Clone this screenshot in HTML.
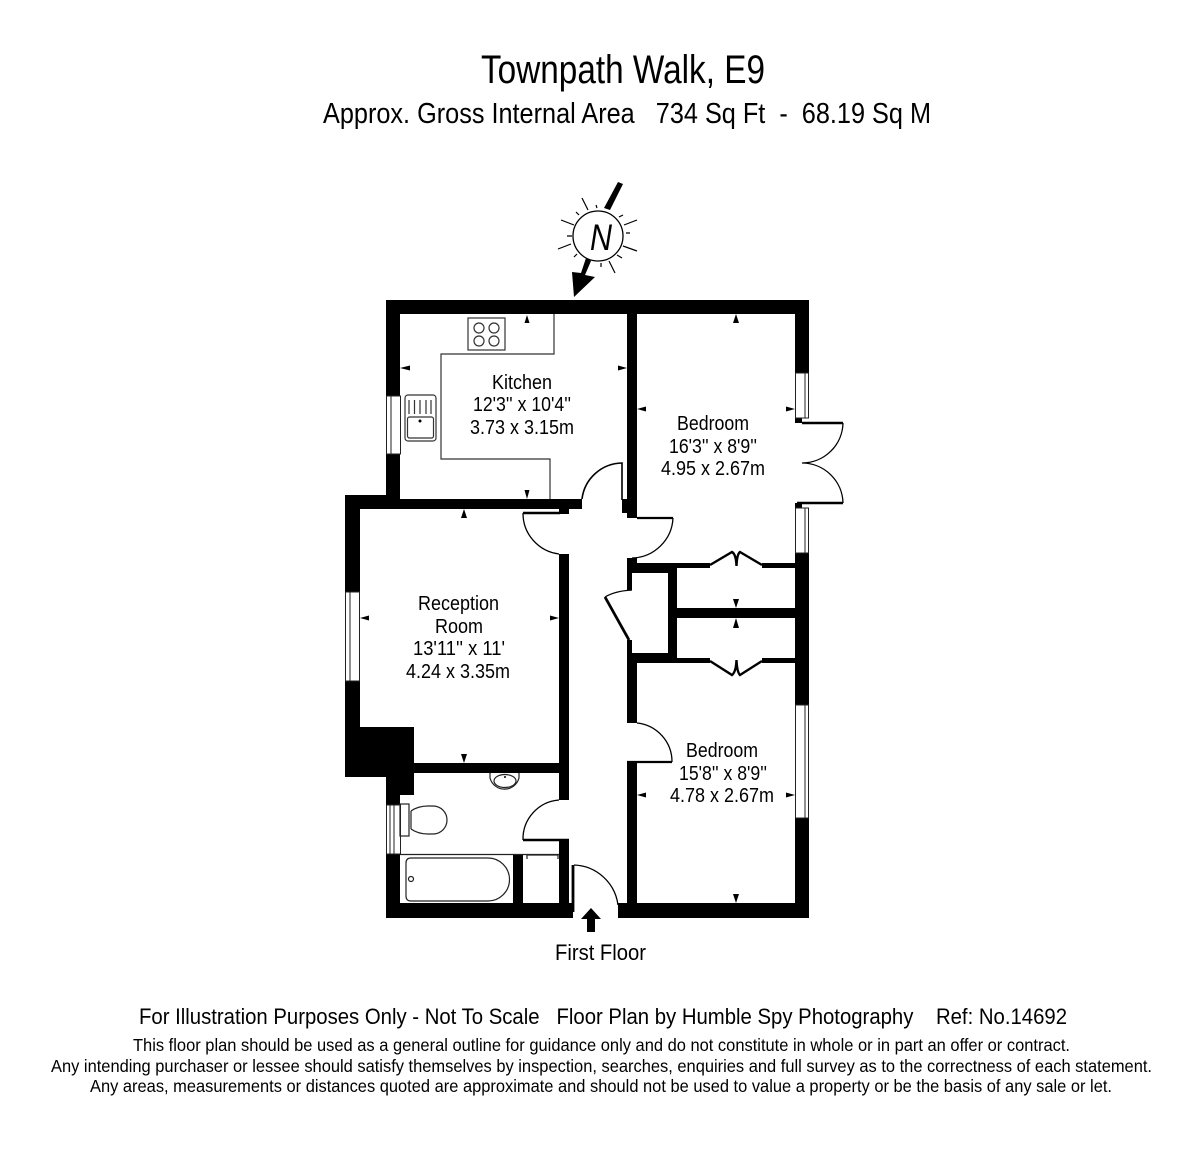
<!DOCTYPE html>
<html><head><meta charset="utf-8"><style>
html,body{margin:0;padding:0;background:#fff}
svg{display:block;filter:blur(0.35px)}
text{font-family:"Liberation Sans",sans-serif;fill:#000}
</style></head><body>
<svg width="1200" height="1160" viewBox="0 0 1200 1160" xmlns="http://www.w3.org/2000/svg">
<rect width="1200" height="1160" fill="#fff"/>
<!-- titles -->
<text x="481" y="83" font-size="40" textLength="284" lengthAdjust="spacingAndGlyphs">Townpath Walk, E9</text>
<text x="323" y="123" font-size="29" textLength="608" lengthAdjust="spacingAndGlyphs" xml:space="preserve">Approx. Gross Internal Area   734 Sq Ft  -  68.19 Sq M</text>
<!-- compass -->
<g stroke="#000" fill="none">
<circle cx="598" cy="236" r="25" stroke-width="1.3"/>
<g stroke-width="1.2">
<path d="M582 198L588 210M561 220L574 225M558 249L571 244M623 246L637 251M624 225L637 220M609 261L615 273"/>
<path d="M576 212L579 215M596 205L597 208M619 217L623 215M626 233L630 233M567 236L572 236M574 257L577 254M601 263L601 267M617 255L622 258"/>
</g>
</g>
<path d="M618 182L623 184L610 210L604 208Z"/>
<path d="M586 258L591 261L585 275L595 277L574 297L572 272L581 273Z"/>
<text x="590" y="250" font-size="37" font-style="italic" textLength="22" lengthAdjust="spacingAndGlyphs">N</text>
<!-- walls -->
<g fill="#000">
<rect x="386" y="300" width="423" height="14"/>
<rect x="386" y="300" width="14" height="200"/>
<rect x="795" y="300" width="14" height="73"/>
<rect x="627" y="314" width="10" height="204"/>
<rect x="622" y="499" width="6" height="14"/>
<rect x="345" y="495" width="55" height="14"/>
<rect x="345" y="499" width="237" height="10"/>
<rect x="559" y="505" width="10" height="9"/>
<rect x="345" y="495" width="15" height="282"/>
<rect x="345" y="727" width="69" height="50"/>
<rect x="386" y="777" width="28" height="18"/>
<rect x="386" y="795" width="14" height="10"/>
<rect x="386" y="854" width="14" height="64"/>
<rect x="386" y="903" width="187" height="15"/>
<rect x="618" y="903" width="191" height="15"/>
<rect x="414" y="763" width="145" height="10"/>
<rect x="559" y="554" width="10" height="246"/>
<rect x="559" y="840" width="10" height="65"/>
<rect x="513" y="855" width="10" height="48"/>
<rect x="627" y="762" width="10" height="141"/>
<rect x="627" y="663" width="10" height="60"/>
<rect x="627" y="558" width="10" height="15"/>
<rect x="627" y="573" width="5" height="17"/>
<rect x="627" y="640" width="5" height="15"/>
<rect x="627" y="563" width="41" height="10"/>
<rect x="668" y="563" width="9" height="100"/>
<rect x="627" y="653" width="41" height="10"/>
<rect x="677" y="563" width="33" height="5"/>
<rect x="762" y="563" width="33" height="5"/>
<rect x="677" y="658" width="33" height="5"/>
<rect x="762" y="658" width="33" height="5"/>
<rect x="677" y="608" width="118" height="10"/>
<rect x="795" y="553" width="14" height="152"/>
<rect x="795" y="818" width="14" height="100"/>
<rect x="795" y="418" width="7" height="5"/>
<rect x="795" y="503" width="7" height="5"/>
</g>
<!-- windows -->
<g fill="#fff" stroke="#222" stroke-width="1">
<rect x="386.5" y="396" width="14" height="58"/>
<path d="M391 396V454" fill="none"/>
<rect x="795.5" y="373" width="13" height="45"/>
<path d="M805 373V418" fill="none"/>
<rect x="795.5" y="508" width="13" height="45"/>
<path d="M805 508V553" fill="none"/>
<rect x="345.5" y="592" width="14" height="89"/>
<path d="M350 592V681" fill="none"/>
<rect x="795.5" y="705" width="13" height="113"/>
<path d="M805 705V818" fill="none"/>
<rect x="386.5" y="805" width="14" height="49"/>
<path d="M390 805V854M394 805V854" fill="none"/>
</g>
<!-- doors -->
<g fill="none" stroke="#000" stroke-width="1.3">
<path d="M622 500V463A41 41 0 0 0 582 499" stroke-width="1.6"/>
<path d="M523 513H560" stroke-width="2.4"/>
<path d="M523 513A41 41 0 0 0 559 554" />
<path d="M637 518H673" stroke-width="2.2"/>
<path d="M673 518A42 42 0 0 1 632 558" />
<path d="M802 423H843" stroke-width="2.4"/>
<path d="M843 423A41 41 0 0 1 802 463A41 41 0 0 1 843 503"/>
<path d="M797 503H843" stroke-width="2.4"/>
<path d="M559 800A39 39 0 0 0 523 840"/>
<path d="M523 840H569" stroke-width="2.4"/>
<path d="M637 723A39 39 0 0 1 672 762"/>
<path d="M627 762H672" stroke-width="2.2"/>
<path d="M574 865A46 46 0 0 1 618 905" />
<path d="M632 590Q615 591 605 597" />
<path d="M605 597L629 640" stroke-width="2.8"/>
<path d="M710 565L732 552Q736 554 736.500 566Q737 554 740 552L762 565" stroke-width="2.4"/>
<path d="M710 661L732 675Q736 672 736.500 660Q737 672 740 675L762 661" stroke-width="2.4"/>
<path d="M573 865V912" stroke-width="2.8"/>
</g>
<!-- kitchen fixtures -->
<g fill="none" stroke="#333" stroke-width="1.2">
<path d="M554 314V354H441V459H550V499"/>
<rect x="468" y="318" width="37" height="32"/>
<circle cx="479" cy="328" r="5"/><circle cx="494" cy="328" r="5"/>
<circle cx="479" cy="341" r="5"/><circle cx="494" cy="341" r="5"/>
<rect x="405" y="395" width="31" height="46" rx="3"/>
<rect x="407.500" y="417" width="26" height="21" rx="2"/>
<path d="M409 400V414M414.500 400V414M420 400V414M426 400V414M431 400V414"/>
</g>
<circle cx="420" cy="421" r="1.5"/>
<!-- bathroom fixtures -->
<g fill="none" stroke="#222" stroke-width="1.2">
<path d="M400 854.500H559"/>
<path d="M527 859V855H558V859" />
<path d="M411 858H488A21.500 21.500 0 0 1 488 901H411Q406 901 406 896V863Q406 858 411 858Z"/>
<circle cx="411" cy="879" r="2.500"/>
<rect x="400" y="804" width="9" height="32"/>
<path d="M411 811V829M411 811Q418 806 428 806H433A14 14 0 0 1 433 834H428Q418 834 411 829"/>
<path d="M490 773V778A15 15 0 0 0 519 778V773"/>
<ellipse cx="505" cy="781" rx="11" ry="6.500"/>
</g>
<circle cx="505" cy="777" r="1"/>
<path d="M591 908L601 919H595V932H587V919H581Z"/>
<!-- ticks -->
<g fill="#000">
<path d="M527 315L524.500 323H529.500ZM527 499L524.500 490H529.500ZM400 368L410 365.500V370.500ZM627 368L618 365.500V370.500Z"/>
<path d="M736 314L733 323H739ZM637 409L646 406.500V411.500ZM795 409L786 406.500V411.500Z"/>
<path d="M736 608L733 599H739ZM736 618L733 628H739Z"/>
<path d="M464 509L461 518H467ZM360 618L369 615.500V620.500ZM559 618L550 615.500V620.500ZM464 763L461 754H467Z"/>
<path d="M637 795L646 792.500V797.500ZM795 795L786 792.500V797.500ZM736 903L733 894H739Z"/>
</g>
<!-- labels -->
<g font-size="20">
<text x="492" y="389" textLength="60" lengthAdjust="spacingAndGlyphs">Kitchen</text>
<text x="473" y="411" textLength="98" lengthAdjust="spacingAndGlyphs">12'3'' x 10'4''</text>
<text x="470" y="434" textLength="104" lengthAdjust="spacingAndGlyphs">3.73 x 3.15m</text>
<text x="677" y="430" textLength="72" lengthAdjust="spacingAndGlyphs">Bedroom</text>
<text x="669" y="453" textLength="88" lengthAdjust="spacingAndGlyphs">16'3'' x 8'9''</text>
<text x="661" y="475" textLength="104" lengthAdjust="spacingAndGlyphs">4.95 x 2.67m</text>
<text x="418" y="610" textLength="81" lengthAdjust="spacingAndGlyphs">Reception</text>
<text x="435" y="633" textLength="48" lengthAdjust="spacingAndGlyphs">Room</text>
<text x="413" y="655" textLength="92" lengthAdjust="spacingAndGlyphs">13'11'' x 11'</text>
<text x="406" y="678" textLength="104" lengthAdjust="spacingAndGlyphs">4.24 x 3.35m</text>
<text x="686" y="757" textLength="72" lengthAdjust="spacingAndGlyphs">Bedroom</text>
<text x="679" y="780" textLength="88" lengthAdjust="spacingAndGlyphs">15'8'' x 8'9''</text>
<text x="670" y="802" textLength="104" lengthAdjust="spacingAndGlyphs">4.78 x 2.67m</text>
</g>
<text x="555" y="960" font-size="22" textLength="91" lengthAdjust="spacingAndGlyphs">First Floor</text>
<!-- footer -->
<text x="139" y="1024" font-size="22.500" textLength="928" lengthAdjust="spacingAndGlyphs" xml:space="preserve">For Illustration Purposes Only - Not To Scale   Floor Plan by Humble Spy Photography    Ref: No.14692</text>
<g font-size="17.500">
<text x="133" y="1051" textLength="937" lengthAdjust="spacingAndGlyphs">This floor plan should be used as a general outline for guidance only and do not constitute in whole or in part an offer or contract.</text>
<text x="51" y="1072" textLength="1101" lengthAdjust="spacingAndGlyphs">Any intending purchaser or lessee should satisfy themselves by inspection, searches, enquiries and full survey as to the correctness of each statement.</text>
<text x="90" y="1092" textLength="1022" lengthAdjust="spacingAndGlyphs">Any areas, measurements or distances quoted are approximate and should not be used to value a property or be the basis of any sale or let.</text>
</g>
</svg>
</body></html>
